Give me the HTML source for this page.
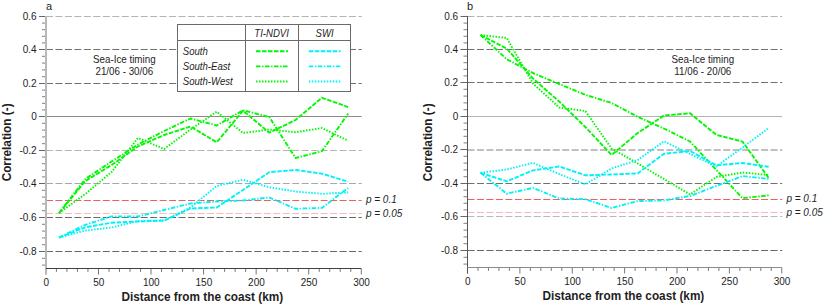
<!DOCTYPE html>
<html><head><meta charset="utf-8"><style>
html,body{margin:0;padding:0;background:#fff;}
svg{display:block;}
text{font-family:"Liberation Sans",sans-serif;fill:#1e1e1e;}
.t{font-size:10px;}
.s{font-size:9.8px;}
.i{font-size:10px;font-style:italic;}
.b{font-size:11.8px;font-weight:bold;}
.pl{font-size:11px;}
.li{font-size:9.6px;}
</style></head><body>
<svg width="825" height="304" viewBox="0 0 825 304">
<rect width="825" height="304" fill="#fff"/>
<line x1="46.00" y1="16.5" x2="361.70" y2="16.5" stroke="#b4b4b4" stroke-width="1" stroke-dasharray="7 2.47" stroke-dashoffset="0"/>
<line x1="46.00" y1="49.5" x2="361.70" y2="49.5" stroke="#707070" stroke-width="1" stroke-dasharray="7 2.47" stroke-dashoffset="0"/>
<line x1="46.00" y1="83.5" x2="361.70" y2="83.5" stroke="#707070" stroke-width="1" stroke-dasharray="7 2.47" stroke-dashoffset="0"/>
<line x1="46.00" y1="116.5" x2="361.70" y2="116.5" stroke="#8a8a8a" stroke-width="1"/>
<line x1="46.00" y1="150.5" x2="361.70" y2="150.5" stroke="#b4b4b4" stroke-width="1" stroke-dasharray="7 2.47" stroke-dashoffset="0"/>
<line x1="46.00" y1="183.5" x2="361.70" y2="183.5" stroke="#a8a8a8" stroke-width="1" stroke-dasharray="7 2.47" stroke-dashoffset="0"/>
<line x1="46.00" y1="200.5" x2="361.70" y2="200.5" stroke="#ee6060" stroke-width="1" stroke-dasharray="7 2.47" stroke-dashoffset="0"/>
<line x1="46.00" y1="213.5" x2="361.70" y2="213.5" stroke="#f8b8b8" stroke-width="1" stroke-dasharray="7 2.47" stroke-dashoffset="0"/>
<line x1="46.00" y1="217.5" x2="361.70" y2="217.5" stroke="#686868" stroke-width="1" stroke-dasharray="7 2.47" stroke-dashoffset="0"/>
<line x1="46.00" y1="251.5" x2="361.70" y2="251.5" stroke="#686868" stroke-width="1" stroke-dasharray="7 2.47" stroke-dashoffset="0"/>
<line x1="39.00" y1="16.5" x2="46.00" y2="16.5" stroke="#666" stroke-width="1"/>
<line x1="39.00" y1="49.5" x2="46.00" y2="49.5" stroke="#666" stroke-width="1"/>
<line x1="39.00" y1="83.5" x2="46.00" y2="83.5" stroke="#666" stroke-width="1"/>
<line x1="39.00" y1="116.5" x2="46.00" y2="116.5" stroke="#666" stroke-width="1"/>
<line x1="39.00" y1="150.5" x2="46.00" y2="150.5" stroke="#666" stroke-width="1"/>
<line x1="39.00" y1="183.5" x2="46.00" y2="183.5" stroke="#666" stroke-width="1"/>
<line x1="39.00" y1="217.5" x2="46.00" y2="217.5" stroke="#666" stroke-width="1"/>
<line x1="39.00" y1="251.5" x2="46.00" y2="251.5" stroke="#666" stroke-width="1"/>
<line x1="42.00" y1="23.10" x2="46.00" y2="23.10" stroke="#808080" stroke-width="1"/>
<line x1="42.00" y1="29.70" x2="46.00" y2="29.70" stroke="#808080" stroke-width="1"/>
<line x1="42.00" y1="36.30" x2="46.00" y2="36.30" stroke="#808080" stroke-width="1"/>
<line x1="42.00" y1="42.90" x2="46.00" y2="42.90" stroke="#808080" stroke-width="1"/>
<line x1="42.00" y1="56.30" x2="46.00" y2="56.30" stroke="#808080" stroke-width="1"/>
<line x1="42.00" y1="63.10" x2="46.00" y2="63.10" stroke="#808080" stroke-width="1"/>
<line x1="42.00" y1="69.90" x2="46.00" y2="69.90" stroke="#808080" stroke-width="1"/>
<line x1="42.00" y1="76.70" x2="46.00" y2="76.70" stroke="#808080" stroke-width="1"/>
<line x1="42.00" y1="90.10" x2="46.00" y2="90.10" stroke="#808080" stroke-width="1"/>
<line x1="42.00" y1="96.70" x2="46.00" y2="96.70" stroke="#808080" stroke-width="1"/>
<line x1="42.00" y1="103.30" x2="46.00" y2="103.30" stroke="#808080" stroke-width="1"/>
<line x1="42.00" y1="109.90" x2="46.00" y2="109.90" stroke="#808080" stroke-width="1"/>
<line x1="42.00" y1="123.30" x2="46.00" y2="123.30" stroke="#808080" stroke-width="1"/>
<line x1="42.00" y1="130.10" x2="46.00" y2="130.10" stroke="#808080" stroke-width="1"/>
<line x1="42.00" y1="136.90" x2="46.00" y2="136.90" stroke="#808080" stroke-width="1"/>
<line x1="42.00" y1="143.70" x2="46.00" y2="143.70" stroke="#808080" stroke-width="1"/>
<line x1="42.00" y1="157.10" x2="46.00" y2="157.10" stroke="#808080" stroke-width="1"/>
<line x1="42.00" y1="163.70" x2="46.00" y2="163.70" stroke="#808080" stroke-width="1"/>
<line x1="42.00" y1="170.30" x2="46.00" y2="170.30" stroke="#808080" stroke-width="1"/>
<line x1="42.00" y1="176.90" x2="46.00" y2="176.90" stroke="#808080" stroke-width="1"/>
<line x1="42.00" y1="190.30" x2="46.00" y2="190.30" stroke="#808080" stroke-width="1"/>
<line x1="42.00" y1="197.10" x2="46.00" y2="197.10" stroke="#808080" stroke-width="1"/>
<line x1="42.00" y1="203.90" x2="46.00" y2="203.90" stroke="#808080" stroke-width="1"/>
<line x1="42.00" y1="210.70" x2="46.00" y2="210.70" stroke="#808080" stroke-width="1"/>
<line x1="42.00" y1="224.30" x2="46.00" y2="224.30" stroke="#808080" stroke-width="1"/>
<line x1="42.00" y1="231.10" x2="46.00" y2="231.10" stroke="#808080" stroke-width="1"/>
<line x1="42.00" y1="237.90" x2="46.00" y2="237.90" stroke="#808080" stroke-width="1"/>
<line x1="42.00" y1="244.70" x2="46.00" y2="244.70" stroke="#808080" stroke-width="1"/>
<line x1="42.00" y1="258.30" x2="46.00" y2="258.30" stroke="#808080" stroke-width="1"/>
<line x1="42.00" y1="265.10" x2="46.00" y2="265.10" stroke="#808080" stroke-width="1"/>
<line x1="45.90" y1="268.5" x2="45.90" y2="274.50" stroke="#777" stroke-width="1"/>
<line x1="56.41" y1="268.5" x2="56.41" y2="271.90" stroke="#777" stroke-width="1"/>
<line x1="66.93" y1="268.5" x2="66.93" y2="271.90" stroke="#777" stroke-width="1"/>
<line x1="77.44" y1="268.5" x2="77.44" y2="271.90" stroke="#777" stroke-width="1"/>
<line x1="87.95" y1="268.5" x2="87.95" y2="271.90" stroke="#777" stroke-width="1"/>
<line x1="98.47" y1="268.5" x2="98.47" y2="274.50" stroke="#777" stroke-width="1"/>
<line x1="108.98" y1="268.5" x2="108.98" y2="271.90" stroke="#777" stroke-width="1"/>
<line x1="119.49" y1="268.5" x2="119.49" y2="271.90" stroke="#777" stroke-width="1"/>
<line x1="130.00" y1="268.5" x2="130.00" y2="271.90" stroke="#777" stroke-width="1"/>
<line x1="140.52" y1="268.5" x2="140.52" y2="271.90" stroke="#777" stroke-width="1"/>
<line x1="151.03" y1="268.5" x2="151.03" y2="274.50" stroke="#777" stroke-width="1"/>
<line x1="161.54" y1="268.5" x2="161.54" y2="271.90" stroke="#777" stroke-width="1"/>
<line x1="172.06" y1="268.5" x2="172.06" y2="271.90" stroke="#777" stroke-width="1"/>
<line x1="182.57" y1="268.5" x2="182.57" y2="271.90" stroke="#777" stroke-width="1"/>
<line x1="193.08" y1="268.5" x2="193.08" y2="271.90" stroke="#777" stroke-width="1"/>
<line x1="203.59" y1="268.5" x2="203.59" y2="274.50" stroke="#777" stroke-width="1"/>
<line x1="214.11" y1="268.5" x2="214.11" y2="271.90" stroke="#777" stroke-width="1"/>
<line x1="224.62" y1="268.5" x2="224.62" y2="271.90" stroke="#777" stroke-width="1"/>
<line x1="235.13" y1="268.5" x2="235.13" y2="271.90" stroke="#777" stroke-width="1"/>
<line x1="245.65" y1="268.5" x2="245.65" y2="271.90" stroke="#777" stroke-width="1"/>
<line x1="256.16" y1="268.5" x2="256.16" y2="274.50" stroke="#777" stroke-width="1"/>
<line x1="266.67" y1="268.5" x2="266.67" y2="271.90" stroke="#777" stroke-width="1"/>
<line x1="277.19" y1="268.5" x2="277.19" y2="271.90" stroke="#777" stroke-width="1"/>
<line x1="287.70" y1="268.5" x2="287.70" y2="271.90" stroke="#777" stroke-width="1"/>
<line x1="298.21" y1="268.5" x2="298.21" y2="271.90" stroke="#777" stroke-width="1"/>
<line x1="308.72" y1="268.5" x2="308.72" y2="274.50" stroke="#777" stroke-width="1"/>
<line x1="319.24" y1="268.5" x2="319.24" y2="271.90" stroke="#777" stroke-width="1"/>
<line x1="329.75" y1="268.5" x2="329.75" y2="271.90" stroke="#777" stroke-width="1"/>
<line x1="340.26" y1="268.5" x2="340.26" y2="271.90" stroke="#777" stroke-width="1"/>
<line x1="350.78" y1="268.5" x2="350.78" y2="271.90" stroke="#777" stroke-width="1"/>
<line x1="361.29" y1="268.5" x2="361.29" y2="274.50" stroke="#777" stroke-width="1"/>
<line x1="46.00" y1="16" x2="46.00" y2="274.50" stroke="#b8b8b8" stroke-width="2"/>
<line x1="46.00" y1="268.5" x2="361.29" y2="268.5" stroke="#404040" stroke-width="1"/>
<text x="36.70" y="19.50" text-anchor="end" class="t">0.6</text>
<text x="36.70" y="52.50" text-anchor="end" class="t">0.4</text>
<text x="36.70" y="86.50" text-anchor="end" class="t">0.2</text>
<text x="36.70" y="119.50" text-anchor="end" class="t">0</text>
<text x="36.70" y="153.50" text-anchor="end" class="t">-0.2</text>
<text x="36.70" y="186.50" text-anchor="end" class="t">-0.4</text>
<text x="36.70" y="220.50" text-anchor="end" class="t">-0.6</text>
<text x="36.70" y="254.50" text-anchor="end" class="t">-0.8</text>
<text x="46.20" y="286.00" text-anchor="middle" class="t">0</text>
<text x="98.77" y="286.00" text-anchor="middle" class="t">50</text>
<text x="151.33" y="286.00" text-anchor="middle" class="t">100</text>
<text x="203.90" y="286.00" text-anchor="middle" class="t">150</text>
<text x="256.46" y="286.00" text-anchor="middle" class="t">200</text>
<text x="309.02" y="286.00" text-anchor="middle" class="t">250</text>
<text x="361.59" y="286.00" text-anchor="middle" class="t">300</text>
<text transform="translate(202.30,300.60) scale(1,1.08)" text-anchor="middle" class="b">Distance from the coast (km)</text>
<text transform="translate(10.80,142.40) rotate(-90) scale(1,1.08)" text-anchor="middle" class="b">Correlation (-)</text>
<text x="45.90" y="9.70" class="pl">a</text>
<text transform="translate(124.30,63.40) scale(1,1.03)" text-anchor="middle" class="s">Sea-Ice timing</text>
<text transform="translate(124.30,75.40) scale(1,1.03)" text-anchor="middle" class="s">21/06 - 30/06</text>
<text x="365.90" y="202.70" class="i">p = 0.1</text>
<text x="365.90" y="217.20" class="i">p = 0.05</text>
<rect x="177.5" y="24.5" width="173.0" height="67.0" fill="#fff" stroke="#6a6a6a" stroke-width="1"/>
<line x1="177.5" y1="40.5" x2="350.5" y2="40.5" stroke="#6a6a6a" stroke-width="1"/>
<line x1="245.5" y1="24.5" x2="245.5" y2="91.5" stroke="#6a6a6a" stroke-width="1"/>
<line x1="298.5" y1="24.5" x2="298.5" y2="91.5" stroke="#6a6a6a" stroke-width="1"/>
<text transform="translate(271.60,37.40) scale(1,1.05)" text-anchor="middle" class="i li">TI-NDVI</text>
<text transform="translate(324.60,37.40) scale(1,1.05)" text-anchor="middle" class="i li">SWI</text>
<text transform="translate(182.80,54.70) scale(1,1.05)" class="i li">South</text>
<line x1="256" y1="51.20" x2="288" y2="51.20" stroke="#00f800" stroke-width="1.9" stroke-dasharray="4.5 1.5"/>
<line x1="308.8" y1="51.20" x2="340.6" y2="51.20" stroke="#00f2f8" stroke-width="1.9" stroke-dasharray="4.5 1.5"/>
<text transform="translate(182.80,69.85) scale(1,1.05)" class="i li">South-East</text>
<line x1="256" y1="66.35" x2="288" y2="66.35" stroke="#00f800" stroke-width="1.9" stroke-dasharray="4.5 1.6 1.4 1.5"/>
<line x1="308.8" y1="66.35" x2="340.6" y2="66.35" stroke="#00f2f8" stroke-width="1.9" stroke-dasharray="4.5 1.6 1.4 1.5"/>
<text transform="translate(182.80,85.00) scale(1,1.05)" class="i li">South-West</text>
<line x1="256" y1="81.50" x2="288" y2="81.50" stroke="#00f800" stroke-width="1.9" stroke-dasharray="1.5 1.5"/>
<line x1="308.8" y1="81.50" x2="340.6" y2="81.50" stroke="#00f2f8" stroke-width="1.9" stroke-dasharray="1.5 1.5"/>
<polyline points="59.04,213.00 85.32,181.00 111.61,165.00 137.89,146.50 164.17,135.00 190.45,126.50 216.74,142.30 243.02,110.70 269.30,132.70 295.58,120.00 321.87,97.80 348.15,107.10" fill="none" stroke="#00f800" stroke-width="1.9" stroke-dasharray="4.5 1.5" stroke-linejoin="round"/>
<polyline points="59.04,213.00 85.32,179.00 111.61,161.50 137.89,144.50 164.17,131.00 190.45,118.50 216.74,125.50 243.02,110.30 269.30,117.00 295.58,158.00 321.87,151.20 348.15,113.60" fill="none" stroke="#00f800" stroke-width="1.9" stroke-dasharray="4.5 1.6 1.4 1.5" stroke-linejoin="round"/>
<polyline points="59.04,213.00 85.32,194.00 111.61,172.00 137.89,138.00 164.17,149.00 190.45,129.50 216.74,111.70 243.02,133.00 269.30,129.50 295.58,132.20 321.87,128.00 348.15,140.70" fill="none" stroke="#00f800" stroke-width="1.9" stroke-dasharray="1.5 1.5" stroke-linejoin="round"/>
<polyline points="59.04,237.50 85.32,227.30 111.61,222.70 137.89,221.50 164.17,220.50 190.45,208.50 216.74,207.50 243.02,190.00 269.30,172.20 295.58,170.00 321.87,173.60 348.15,181.70" fill="none" stroke="#00f2f8" stroke-width="1.9" stroke-dasharray="4.5 1.5" stroke-linejoin="round"/>
<polyline points="59.04,237.50 85.32,224.80 111.61,216.40 137.89,216.50 164.17,210.00 190.45,203.50 216.74,201.50 243.02,200.50 269.30,197.50 295.58,208.80 321.87,207.90 348.15,188.00" fill="none" stroke="#00f2f8" stroke-width="1.9" stroke-dasharray="4.5 1.6 1.4 1.5" stroke-linejoin="round"/>
<polyline points="59.04,237.50 85.32,230.60 111.61,227.50 137.89,221.00 164.17,220.50 190.45,207.50 216.74,186.00 243.02,179.70 269.30,187.30 295.58,191.50 321.87,193.80 348.15,192.50" fill="none" stroke="#00f2f8" stroke-width="1.9" stroke-dasharray="1.5 1.5" stroke-linejoin="round"/>
<line x1="467.50" y1="16.5" x2="782.20" y2="16.5" stroke="#b4b4b4" stroke-width="1" stroke-dasharray="7 2.47" stroke-dashoffset="0"/>
<line x1="467.50" y1="49.5" x2="782.20" y2="49.5" stroke="#707070" stroke-width="1" stroke-dasharray="7 2.47" stroke-dashoffset="0"/>
<line x1="467.50" y1="82.5" x2="782.20" y2="82.5" stroke="#707070" stroke-width="1" stroke-dasharray="7 2.47" stroke-dashoffset="0"/>
<line x1="467.50" y1="116.5" x2="782.20" y2="116.5" stroke="#b4b4b4" stroke-width="1"/>
<line x1="467.50" y1="150.0" x2="782.20" y2="150.0" stroke="#c0c0c0" stroke-width="2" stroke-dasharray="7 2.47" stroke-dashoffset="0"/>
<line x1="467.50" y1="183.5" x2="782.20" y2="183.5" stroke="#707070" stroke-width="1" stroke-dasharray="7 2.47" stroke-dashoffset="0"/>
<line x1="467.50" y1="199.5" x2="782.20" y2="199.5" stroke="#ee6060" stroke-width="1" stroke-dasharray="7 2.47" stroke-dashoffset="0"/>
<line x1="467.50" y1="212.5" x2="782.20" y2="212.5" stroke="#f8b8b8" stroke-width="1" stroke-dasharray="7 2.47" stroke-dashoffset="0"/>
<line x1="467.50" y1="216.5" x2="782.20" y2="216.5" stroke="#b8b8c0" stroke-width="1" stroke-dasharray="7 2.47" stroke-dashoffset="0"/>
<line x1="467.50" y1="250.5" x2="782.20" y2="250.5" stroke="#686868" stroke-width="1" stroke-dasharray="7 2.47" stroke-dashoffset="0"/>
<line x1="460.50" y1="16.5" x2="467.50" y2="16.5" stroke="#666" stroke-width="1"/>
<line x1="460.50" y1="49.5" x2="467.50" y2="49.5" stroke="#666" stroke-width="1"/>
<line x1="460.50" y1="82.5" x2="467.50" y2="82.5" stroke="#666" stroke-width="1"/>
<line x1="460.50" y1="116.5" x2="467.50" y2="116.5" stroke="#666" stroke-width="1"/>
<line x1="460.50" y1="149.5" x2="467.50" y2="149.5" stroke="#666" stroke-width="1"/>
<line x1="460.50" y1="183.5" x2="467.50" y2="183.5" stroke="#666" stroke-width="1"/>
<line x1="460.50" y1="216.5" x2="467.50" y2="216.5" stroke="#666" stroke-width="1"/>
<line x1="460.50" y1="250.5" x2="467.50" y2="250.5" stroke="#666" stroke-width="1"/>
<line x1="463.50" y1="23.10" x2="467.50" y2="23.10" stroke="#808080" stroke-width="1"/>
<line x1="463.50" y1="29.70" x2="467.50" y2="29.70" stroke="#808080" stroke-width="1"/>
<line x1="463.50" y1="36.30" x2="467.50" y2="36.30" stroke="#808080" stroke-width="1"/>
<line x1="463.50" y1="42.90" x2="467.50" y2="42.90" stroke="#808080" stroke-width="1"/>
<line x1="463.50" y1="56.10" x2="467.50" y2="56.10" stroke="#808080" stroke-width="1"/>
<line x1="463.50" y1="62.70" x2="467.50" y2="62.70" stroke="#808080" stroke-width="1"/>
<line x1="463.50" y1="69.30" x2="467.50" y2="69.30" stroke="#808080" stroke-width="1"/>
<line x1="463.50" y1="75.90" x2="467.50" y2="75.90" stroke="#808080" stroke-width="1"/>
<line x1="463.50" y1="89.30" x2="467.50" y2="89.30" stroke="#808080" stroke-width="1"/>
<line x1="463.50" y1="96.10" x2="467.50" y2="96.10" stroke="#808080" stroke-width="1"/>
<line x1="463.50" y1="102.90" x2="467.50" y2="102.90" stroke="#808080" stroke-width="1"/>
<line x1="463.50" y1="109.70" x2="467.50" y2="109.70" stroke="#808080" stroke-width="1"/>
<line x1="463.50" y1="123.10" x2="467.50" y2="123.10" stroke="#808080" stroke-width="1"/>
<line x1="463.50" y1="129.70" x2="467.50" y2="129.70" stroke="#808080" stroke-width="1"/>
<line x1="463.50" y1="136.30" x2="467.50" y2="136.30" stroke="#808080" stroke-width="1"/>
<line x1="463.50" y1="142.90" x2="467.50" y2="142.90" stroke="#808080" stroke-width="1"/>
<line x1="463.50" y1="156.30" x2="467.50" y2="156.30" stroke="#808080" stroke-width="1"/>
<line x1="463.50" y1="163.10" x2="467.50" y2="163.10" stroke="#808080" stroke-width="1"/>
<line x1="463.50" y1="169.90" x2="467.50" y2="169.90" stroke="#808080" stroke-width="1"/>
<line x1="463.50" y1="176.70" x2="467.50" y2="176.70" stroke="#808080" stroke-width="1"/>
<line x1="463.50" y1="190.10" x2="467.50" y2="190.10" stroke="#808080" stroke-width="1"/>
<line x1="463.50" y1="196.70" x2="467.50" y2="196.70" stroke="#808080" stroke-width="1"/>
<line x1="463.50" y1="203.30" x2="467.50" y2="203.30" stroke="#808080" stroke-width="1"/>
<line x1="463.50" y1="209.90" x2="467.50" y2="209.90" stroke="#808080" stroke-width="1"/>
<line x1="463.50" y1="223.30" x2="467.50" y2="223.30" stroke="#808080" stroke-width="1"/>
<line x1="463.50" y1="230.10" x2="467.50" y2="230.10" stroke="#808080" stroke-width="1"/>
<line x1="463.50" y1="236.90" x2="467.50" y2="236.90" stroke="#808080" stroke-width="1"/>
<line x1="463.50" y1="243.70" x2="467.50" y2="243.70" stroke="#808080" stroke-width="1"/>
<line x1="463.50" y1="257.30" x2="467.50" y2="257.30" stroke="#808080" stroke-width="1"/>
<line x1="463.50" y1="264.10" x2="467.50" y2="264.10" stroke="#808080" stroke-width="1"/>
<line x1="467.50" y1="267.5" x2="467.50" y2="273.50" stroke="#777" stroke-width="1"/>
<line x1="477.98" y1="267.5" x2="477.98" y2="270.90" stroke="#777" stroke-width="1"/>
<line x1="488.45" y1="267.5" x2="488.45" y2="270.90" stroke="#777" stroke-width="1"/>
<line x1="498.93" y1="267.5" x2="498.93" y2="270.90" stroke="#777" stroke-width="1"/>
<line x1="509.40" y1="267.5" x2="509.40" y2="270.90" stroke="#777" stroke-width="1"/>
<line x1="519.88" y1="267.5" x2="519.88" y2="273.50" stroke="#777" stroke-width="1"/>
<line x1="530.35" y1="267.5" x2="530.35" y2="270.90" stroke="#777" stroke-width="1"/>
<line x1="540.83" y1="267.5" x2="540.83" y2="270.90" stroke="#777" stroke-width="1"/>
<line x1="551.30" y1="267.5" x2="551.30" y2="270.90" stroke="#777" stroke-width="1"/>
<line x1="561.77" y1="267.5" x2="561.77" y2="270.90" stroke="#777" stroke-width="1"/>
<line x1="572.25" y1="267.5" x2="572.25" y2="273.50" stroke="#777" stroke-width="1"/>
<line x1="582.73" y1="267.5" x2="582.73" y2="270.90" stroke="#777" stroke-width="1"/>
<line x1="593.20" y1="267.5" x2="593.20" y2="270.90" stroke="#777" stroke-width="1"/>
<line x1="603.67" y1="267.5" x2="603.67" y2="270.90" stroke="#777" stroke-width="1"/>
<line x1="614.15" y1="267.5" x2="614.15" y2="270.90" stroke="#777" stroke-width="1"/>
<line x1="624.62" y1="267.5" x2="624.62" y2="273.50" stroke="#777" stroke-width="1"/>
<line x1="635.10" y1="267.5" x2="635.10" y2="270.90" stroke="#777" stroke-width="1"/>
<line x1="645.58" y1="267.5" x2="645.58" y2="270.90" stroke="#777" stroke-width="1"/>
<line x1="656.05" y1="267.5" x2="656.05" y2="270.90" stroke="#777" stroke-width="1"/>
<line x1="666.52" y1="267.5" x2="666.52" y2="270.90" stroke="#777" stroke-width="1"/>
<line x1="677.00" y1="267.5" x2="677.00" y2="273.50" stroke="#777" stroke-width="1"/>
<line x1="687.48" y1="267.5" x2="687.48" y2="270.90" stroke="#777" stroke-width="1"/>
<line x1="697.95" y1="267.5" x2="697.95" y2="270.90" stroke="#777" stroke-width="1"/>
<line x1="708.42" y1="267.5" x2="708.42" y2="270.90" stroke="#777" stroke-width="1"/>
<line x1="718.90" y1="267.5" x2="718.90" y2="270.90" stroke="#777" stroke-width="1"/>
<line x1="729.38" y1="267.5" x2="729.38" y2="273.50" stroke="#777" stroke-width="1"/>
<line x1="739.85" y1="267.5" x2="739.85" y2="270.90" stroke="#777" stroke-width="1"/>
<line x1="750.33" y1="267.5" x2="750.33" y2="270.90" stroke="#777" stroke-width="1"/>
<line x1="760.80" y1="267.5" x2="760.80" y2="270.90" stroke="#777" stroke-width="1"/>
<line x1="771.28" y1="267.5" x2="771.28" y2="270.90" stroke="#777" stroke-width="1"/>
<line x1="781.75" y1="267.5" x2="781.75" y2="273.50" stroke="#777" stroke-width="1"/>
<line x1="467.50" y1="16" x2="467.50" y2="273.50" stroke="#555555" stroke-width="1"/>
<line x1="467.50" y1="267.5" x2="781.75" y2="267.5" stroke="#8a8a8a" stroke-width="1"/>
<text x="458.20" y="19.50" text-anchor="end" class="t">0.6</text>
<text x="458.20" y="52.50" text-anchor="end" class="t">0.4</text>
<text x="458.20" y="85.50" text-anchor="end" class="t">0.2</text>
<text x="458.20" y="119.50" text-anchor="end" class="t">0</text>
<text x="458.20" y="152.50" text-anchor="end" class="t">-0.2</text>
<text x="458.20" y="186.50" text-anchor="end" class="t">-0.4</text>
<text x="458.20" y="219.50" text-anchor="end" class="t">-0.6</text>
<text x="458.20" y="253.50" text-anchor="end" class="t">-0.8</text>
<text x="467.80" y="285.00" text-anchor="middle" class="t">0</text>
<text x="520.17" y="285.00" text-anchor="middle" class="t">50</text>
<text x="572.55" y="285.00" text-anchor="middle" class="t">100</text>
<text x="624.92" y="285.00" text-anchor="middle" class="t">150</text>
<text x="677.30" y="285.00" text-anchor="middle" class="t">200</text>
<text x="729.67" y="285.00" text-anchor="middle" class="t">250</text>
<text x="782.05" y="285.00" text-anchor="middle" class="t">300</text>
<text transform="translate(623.40,299.60) scale(1,1.08)" text-anchor="middle" class="b">Distance from the coast (km)</text>
<text transform="translate(432.20,142.40) rotate(-90) scale(1,1.08)" text-anchor="middle" class="b">Correlation (-)</text>
<text x="467.00" y="9.70" class="pl">b</text>
<text transform="translate(702.80,62.80) scale(1,1.03)" text-anchor="middle" class="s">Sea-Ice timing</text>
<text transform="translate(702.80,74.60) scale(1,1.03)" text-anchor="middle" class="s">11/06 - 20/06</text>
<text x="786.40" y="201.90" class="i">p = 0.1</text>
<text x="786.40" y="216.20" class="i">p = 0.05</text>
<polyline points="480.59,35.00 506.78,48.60 532.97,78.50 559.16,101.50 585.34,127.00 611.53,155.00 637.72,133.00 663.91,115.50 690.09,113.30 716.28,134.80 742.47,141.60 768.66,178.00" fill="none" stroke="#00f800" stroke-width="1.9" stroke-dasharray="4.5 1.5" stroke-linejoin="round"/>
<polyline points="480.59,35.00 506.78,59.30 532.97,73.00 559.16,84.00 585.34,94.80 611.53,103.00 637.72,116.80 663.91,128.50 690.09,141.50 716.28,169.80 742.47,198.20 768.66,195.40" fill="none" stroke="#00f800" stroke-width="1.9" stroke-dasharray="4.5 1.6 1.4 1.5" stroke-linejoin="round"/>
<polyline points="480.59,35.00 506.78,38.00 532.97,83.50 559.16,107.50 585.34,111.00 611.53,148.50 637.72,163.50 663.91,179.00 690.09,194.50 716.28,177.00 742.47,172.50 768.66,175.00" fill="none" stroke="#00f800" stroke-width="1.9" stroke-dasharray="1.5 1.5" stroke-linejoin="round"/>
<polyline points="480.59,172.80 506.78,181.30 532.97,170.40 559.16,166.50 585.34,175.30 611.53,174.50 637.72,173.40 663.91,153.80 690.09,151.00 716.28,165.30 742.47,163.00 768.66,166.80" fill="none" stroke="#00f2f8" stroke-width="1.9" stroke-dasharray="4.5 1.5" stroke-linejoin="round"/>
<polyline points="480.59,172.80 506.78,193.70 532.97,187.90 559.16,198.50 585.34,199.20 611.53,208.00 637.72,201.10 663.91,200.40 690.09,196.00 716.28,186.00 742.47,176.10 768.66,178.90" fill="none" stroke="#00f2f8" stroke-width="1.9" stroke-dasharray="4.5 1.6 1.4 1.5" stroke-linejoin="round"/>
<polyline points="480.59,172.80 506.78,169.50 532.97,162.90 559.16,174.00 585.34,184.40 611.53,168.50 637.72,160.00 663.91,141.30 690.09,154.00 716.28,166.50 742.47,147.50 768.66,128.10" fill="none" stroke="#00f2f8" stroke-width="1.9" stroke-dasharray="1.5 1.5" stroke-linejoin="round"/>
</svg>
</body></html>
